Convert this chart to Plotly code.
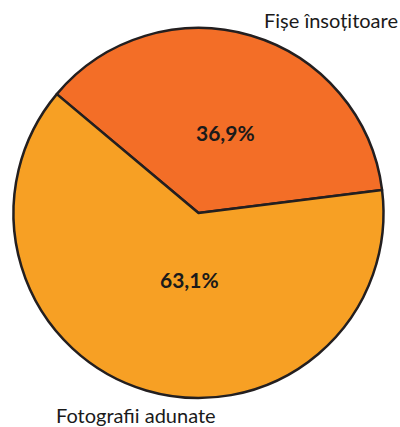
import plotly.graph_objects as go

labels = ["Fișe însoțitoare", "Fotografii adunate"]
values = [36.9, 63.1]
colors = ["#F36E27", "#F7A024"]

W, H = 400, 427


def px(x, y):
    return x / W, 1 - y / H


x0, y0 = px(13, 398)
x1, y1 = px(384, 28)

fig = go.Figure(go.Pie(
    labels=labels,
    values=values,
    sort=False,
    direction="clockwise",
    rotation=-50,
    marker=dict(colors=colors, line=dict(color="#231F20", width=2.5)),
    textinfo="none",
    hoverinfo="label+percent",
    domain=dict(x=[x0, x1], y=[y0, y1]),
    showlegend=False,
))

# category names outside the pie
label_pos = [(331, 20), (136, 415)]
for lab, (x, y) in zip(labels, label_pos):
    ax, ay = px(x, y)
    fig.add_annotation(
        text=lab, x=ax, y=ay, xref="paper", yref="paper",
        showarrow=False, xanchor="center", yanchor="middle",
        font=dict(family="Lato", size=20, color="#1a1a1a"),
    )

# percentage labels inside the slices
total = sum(values)
pct_pos = [(226, 132), (189, 279)]
for v, (x, y) in zip(values, pct_pos):
    ax, ay = px(x, y)
    txt = f"{100 * v / total:.1f}%".replace(".", ",")
    fig.add_annotation(
        text=f"<b>{txt}</b>", x=ax, y=ay, xref="paper", yref="paper",
        showarrow=False, xanchor="center", yanchor="middle",
        font=dict(family="Lato", size=21, color="#1a1a1a"),
    )

fig.update_layout(
    width=W, height=H,
    margin=dict(l=0, r=0, t=0, b=0),
    paper_bgcolor="white",
    plot_bgcolor="white",
    separators=",.",
)

fig.write_html(
    "out.html",
    config={"displayModeBar": False},
    post_script="document.body.style.margin='0';document.body.style.overflow='hidden';",
)
